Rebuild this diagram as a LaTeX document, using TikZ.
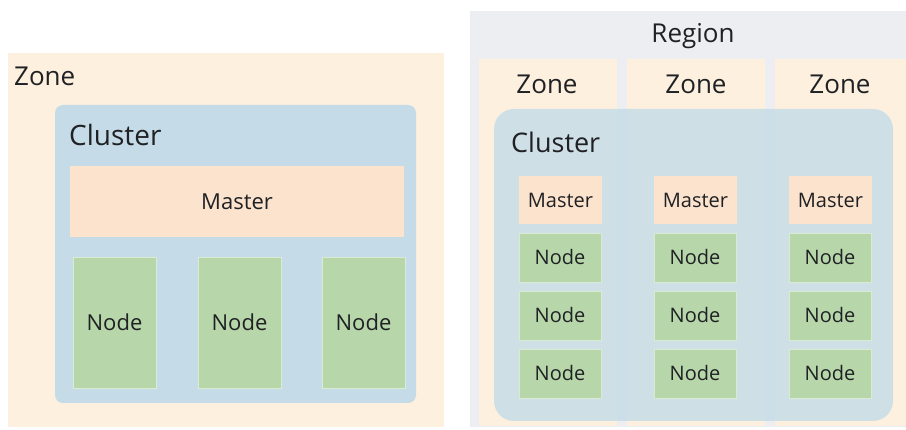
\documentclass[tikz,border=0pt]{standalone}
\usepackage{fontspec}
\setmainfont{Open Sans}
\definecolor{zonec}{HTML}{FEF0DE}
\definecolor{clusterc}{HTML}{C5DCE8}
\definecolor{masterc}{HTML}{FCE3CD}
\definecolor{nodec}{HTML}{B7D7AA}
\definecolor{nodeb}{HTML}{D9EBD2}
\definecolor{regionc}{HTML}{ECEEF2}
\definecolor{txt}{HTML}{202124}
\tikzset{
  box/.style={inner sep=0pt, outer sep=0pt, anchor=north west, text=txt},
  zonebox/.style={box, fill=zonec},
  regionbox/.style={box, fill=regionc},
  clusterbox/.style={box, fill=clusterc, rounded corners=8pt},
  clusterbox2/.style={box, fill=clusterc, fill opacity=0.82, rounded corners=20pt},
  masterbox/.style={box, fill=masterc},
  nodebox/.style={box, fill=nodec, draw=nodeb, line width=0.8pt},
  lbl/.style={inner sep=0pt, text=txt},
}
\begin{document}
\begin{tikzpicture}[x=1pt,y=-1pt]
\useasboundingbox[fill=white] (0,0) rectangle (906,430);
% ---------- left: single zone ----------
\node[zonebox, minimum width=436pt, minimum height=374pt] (z) at (8,53) {};
\node[lbl, anchor=base west, font=\fontsize{26}{30}\selectfont] (zl) at (14,86) {Zone};
\node[clusterbox, minimum width=361pt, minimum height=298pt] (c) at (55,105) {};
\node[lbl, anchor=base west, font=\fontsize{28}{32}\selectfont] (cl) at (69,146) {Cluster};
\node[masterbox, minimum width=334pt, minimum height=71pt, font=\fontsize{22}{26}\selectfont] (m) at (70,166) {Master};
\foreach \x [count=\i] in {73,198,322}{
  \node[nodebox, minimum width=83pt, minimum height=131pt, font=\fontsize{22}{26}\selectfont] (n\i) at (\x,257) {Node};
}
% ---------- right: region ----------
\node[regionbox, minimum width=436pt, minimum height=416pt] (r) at (470,11) {};
\node[lbl, anchor=base, font=\fontsize{26}{30}\selectfont] (rl) at (693,43) {Region};
\foreach \x/\w/\c [count=\i] in {479/138/547,627/138/696,775/131/840}{
  \node[zonebox, minimum width=\w pt, minimum height=367pt] (rz\i) at (\x,59) {};
  \node[lbl, anchor=base, font=\fontsize{26}{30}\selectfont] (rzl\i) at (\c,94) {Zone};
}
\node[clusterbox2, minimum width=399pt, minimum height=312pt] (rc) at (494,109) {};
\node[lbl, anchor=base west, font=\fontsize{27}{32}\selectfont] (rcl) at (511,153) {Cluster};
\foreach \x [count=\i] in {519,654,789}{
  \node[masterbox, minimum width=83pt, minimum height=48pt, font=\fontsize{20}{24}\selectfont] (rm\i) at (\x,176) {Master};
  \node[nodebox, minimum width=82pt, minimum height=49pt, font=\fontsize{20}{24}\selectfont] (ra\i) at (\x,233) {Node};
  \node[nodebox, minimum width=82pt, minimum height=49pt, font=\fontsize{20}{24}\selectfont] (rb\i) at (\x,291) {Node};
  \node[nodebox, minimum width=82pt, minimum height=49pt, font=\fontsize{20}{24}\selectfont] (rn\i) at (\x,349) {Node};
}
\end{tikzpicture}
\end{document}
